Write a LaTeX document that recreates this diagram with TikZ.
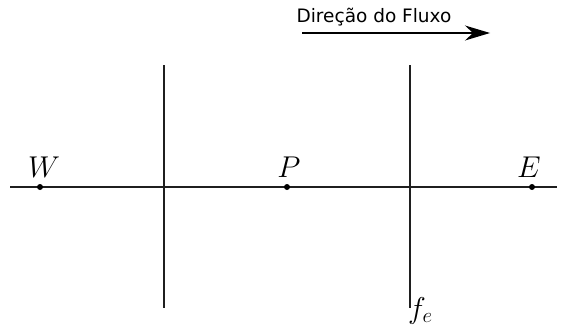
\documentclass[tikz,border=0pt]{standalone}
\usepackage{fontspec}
\newfontfamily\labelfont{DejaVu Sans}
\usetikzlibrary{arrows.meta}
\newcommand{\mlab}[1]{\scalebox{1.45}{\fontsize{20.74}{24}\selectfont$#1$}}
\tikzset{
  line/.style={line width=1.3pt, draw=black!88},
  pt/.style={circle, fill=black, inner sep=0pt, minimum size=6pt},
  mlabel/.style={anchor=base, inner sep=0pt},
}
\begin{document}
\begin{tikzpicture}[x=1pt,y=-1pt]
\useasboundingbox (0,0) rectangle (567,329);
% main axis
\coordinate (L) at (10,187);
\coordinate (R) at (557,187);
\draw[line] (L) -- (R);
% faces
\coordinate (w1) at (164,65);
\coordinate (w2) at (164,308);
\coordinate (e1) at (410,65);
\coordinate (e2) at (410,308);
\draw[line] (w1) -- (w2);
\draw[line] (e1) -- (e2);
% points
\node[pt] (W) at (40,187) {};
\node[pt] (P) at (287,187) {};
\node[pt] (E) at (532,187) {};
\node[mlabel] (Wl) at (44,177) {\mlab{W}};
\node[mlabel] (Pl) at (289,177) {\mlab{P}};
\node[mlabel] (El) at (529,177) {\mlab{E}};
\node[mlabel, anchor=base west] (fe) at (408,318) {\mlab{f_e}};
% flow direction
\node[anchor=base, inner sep=0pt, font=\labelfont\fontsize{18.5}{22}\selectfont] (flux) at (374,23) {Direção do Fluxo};
\coordinate (a1) at (302,33);
\coordinate (a2) at (490,33);
\draw[draw=black, line width=1.3pt, -{Stealth[length=25pt, width=15pt, inset=8pt]}] (a1) -- (a2);
\end{tikzpicture}
\end{document}
